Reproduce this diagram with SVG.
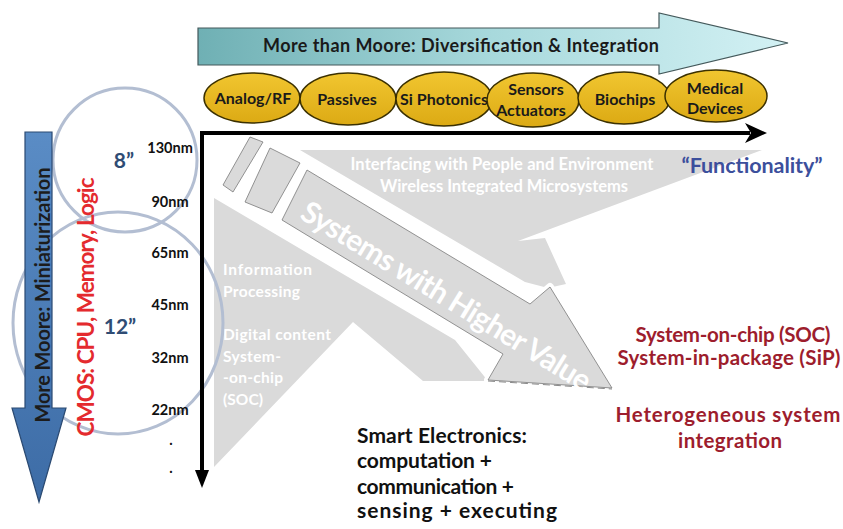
<svg xmlns="http://www.w3.org/2000/svg" width="843" height="529" viewBox="0 0 843 529">
<defs>
  <linearGradient id="tealGrad" x1="0" y1="0" x2="1" y2="0">
    <stop offset="0" stop-color="#6fb0b4"/>
    <stop offset="0.5" stop-color="#a8d9dc"/>
    <stop offset="1" stop-color="#d3f1f4"/>
  </linearGradient>
  <linearGradient id="blueGrad" x1="0" y1="0" x2="0" y2="1">
    <stop offset="0" stop-color="#5a8cc5"/>
    <stop offset="1" stop-color="#3d6ca6"/>
  </linearGradient>
  <linearGradient id="goldGrad" x1="0" y1="0" x2="0" y2="1">
    <stop offset="0" stop-color="#f1c630"/>
    <stop offset="1" stop-color="#dcaa14"/>
  </linearGradient>
</defs>
<style>
  text{font-family:Lato,"Liberation Sans",sans-serif;font-weight:700}
  .ell{fill:url(#goldGrad);stroke:#3b3000;stroke-width:1.5}
  .el{font-size:16px;fill:#1a1a1a;text-anchor:middle}
  .nm{font-size:14.5px;fill:#111;text-anchor:middle}
  .gray{fill:#dadada}
  .wt{fill:#ffffff;font-size:15.5px}
  .wt2{fill:#ffffff;font-size:16.5px;text-anchor:middle}
  .red{fill:#9d1d2d;font-size:20.5px;text-anchor:middle}
  .sm{fill:#111;font-size:21px}
  .ring{fill:none;stroke:#b3bed2;stroke-width:3}
  .band{fill:#dadada;stroke:#7a7a7a;stroke-width:0.8}
  .bandEdge{fill:none;stroke:#ffffff;stroke-width:8;stroke-linejoin:round}
</style>

<!-- gray background shapes -->
<g id="gray-field">
  <polygon class="gray" points="300,150 762,150 518,241 545,238 566,284 548,288 525,282"/>
  <polygon class="gray" points="214,198 455,340 488,381 423,381 353,322 214,467"/>
  <polygon class="bandEdge" points="307,170 530,304 550,287 612,388 488,380 503,354 282,220"/>
  <polygon class="band" points="250,137 263,142 233,192 223,185"/>
  <polygon class="band" points="270,148 300,163 272,213 245,202"/>
  <polygon class="band" points="307,170 530,304 550,287 612,388 488,380 503,354 282,220"/>
  <line x1="488" y1="381" x2="612" y2="389" stroke="#8a8a8a" stroke-width="1" stroke-dasharray="7,4"/>
  <text class="wt2" x="502" y="170" textLength="303">Interfacing with People  and Environment</text>
  <text class="wt2" x="504" y="192" textLength="248">Wireless Integrated Microsystems</text>
  <text transform="translate(441,305) rotate(31.5)" text-anchor="middle" font-size="30" fill="#ffffff" textLength="334">Systems with Higher Value</text>
  <text class="wt" x="223" y="275" textLength="89">Information</text>
  <text class="wt" x="223" y="297" textLength="77">Processing</text>
  <text class="wt" x="223" y="340" textLength="108">Digital content</text>
  <text class="wt" x="223" y="362" textLength="58">System-</text>
  <text class="wt" x="223" y="383" textLength="60">-on-chip</text>
  <text class="wt" x="223" y="405" textLength="40">(SOC)</text>
</g>

<!-- wafer circles -->
<g id="wafers">
  <circle class="ring" cx="125" cy="160" r="72"/>
  <ellipse class="ring" cx="118" cy="323" rx="105" ry="111"/>
  <text x="124" y="168" text-anchor="middle" font-size="21" fill="#2f4c74">8”</text>
  <text x="120" y="334" text-anchor="middle" font-size="21" fill="#2f4c74">12”</text>
</g>

<!-- More Moore arrow -->
<g id="more-moore">
  <polygon points="25,132 52,132 52,408 66,408 39,502 12,408 25,408" fill="url(#blueGrad)" stroke="#2b4a72" stroke-width="1.2"/>
  <text transform="translate(50,295) rotate(-90)" text-anchor="middle" font-size="20" fill="#1c1c1c" textLength="255">More Moore: Miniaturization</text>
</g>

<g id="cmos">
  <text transform="translate(94,307) rotate(-90)" text-anchor="middle" font-size="22.5" fill="#e42a2e" textLength="259">CMOS: CPU, Memory, Logic</text>
</g>

<g id="nodes-nm">
  <text class="nm" x="170" y="153">130nm</text>
  <text class="nm" x="170" y="207">90nm</text>
  <text class="nm" x="170" y="258">65nm</text>
  <text class="nm" x="170" y="310">45nm</text>
  <text class="nm" x="170" y="363">32nm</text>
  <text class="nm" x="170" y="415">22nm</text>
  <text class="nm" x="171" y="445">.</text>
  <text class="nm" x="171" y="473">.</text>
</g>

<!-- More than Moore arrow -->
<g id="more-than-moore">
  <polygon points="198,28 659,28 659,13 788,43 659,74 659,65 198,65" fill="url(#tealGrad)" stroke="#44595b" stroke-width="1.2"/>
  <text x="461" y="52" text-anchor="middle" font-size="18" fill="#1a1a1a" textLength="396">More than Moore: Diversification &amp; Integration</text>
</g>

<g id="analog-rf">
  <ellipse class="ell" cx="252" cy="98" rx="48" ry="25"/>
  <text class="el" x="253" y="104">Analog/RF</text>
</g>
<g id="passives">
  <ellipse class="ell" cx="348" cy="99" rx="48" ry="26"/>
  <text class="el" x="347" y="105">Passives</text>
</g>
<g id="si-photonics">
  <ellipse class="ell" cx="444" cy="99" rx="48" ry="27"/>
  <text class="el" x="444" y="105" textLength="88">Si Photonics</text>
</g>
<g id="sensors-actuators">
  <ellipse class="ell" cx="533" cy="100" rx="46" ry="27"/>
  <text class="el" x="536" y="95">Sensors</text>
  <text class="el" x="531" y="116">Actuators</text>
</g>
<g id="biochips">
  <ellipse class="ell" cx="624" cy="98" rx="46" ry="26"/>
  <text class="el" x="625" y="105">Biochips</text>
</g>
<g id="medical-devices">
  <ellipse class="ell" cx="716" cy="96" rx="51" ry="26"/>
  <text class="el" x="715" y="94">Medical</text>
  <text class="el" x="715" y="114">Devices</text>
</g>

<!-- axes -->
<g id="connectors">
  <path d="M202,476 L202,133 L750,133" fill="none" stroke="#000" stroke-width="4" stroke-linejoin="miter"/>
  <polygon points="745,123 767,133 745,143 751,133" fill="#000"/>
  <polygon points="195,470 202,488 209,470" fill="#000"/>
</g>

<g id="functionality">
  <text x="752" y="173" text-anchor="middle" font-size="21.5" fill="#3c4f9c" textLength="141">“Functionality”</text>
</g>

<g id="soc-sip">
  <text class="red" x="733" y="342" textLength="195">System-on-chip (SOC)</text>
  <text class="red" x="729" y="365" textLength="223">System-in-package (SiP)</text>
</g>

<g id="heterogeneous">
  <text class="red" x="728" y="422" textLength="225">Heterogeneous system</text>
  <text class="red" x="730" y="448" textLength="104">integration</text>
</g>

<g id="smart-electronics">
  <text class="sm" x="357" y="443" textLength="170">Smart Electronics:</text>
  <text class="sm" x="357" y="468" textLength="135">computation +</text>
  <text class="sm" x="357" y="494" textLength="157">communication +</text>
  <text class="sm" x="357" y="518" textLength="200">sensing + executing</text>
</g>
</svg>
